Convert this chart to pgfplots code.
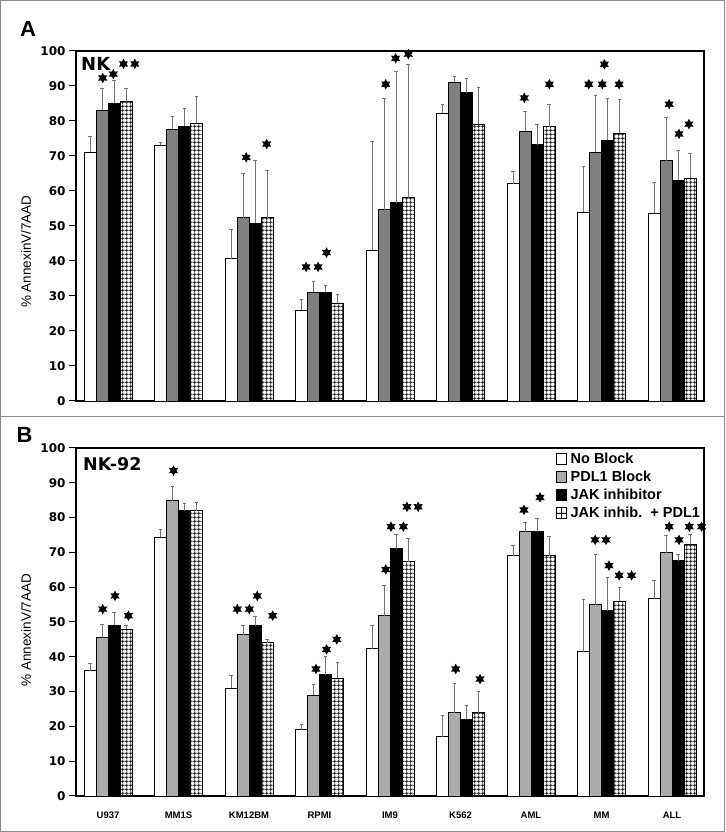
\documentclass[border=0pt]{standalone}
\usepackage{pgfplots}
\usepackage{pgfplotstable}
\pgfplotsset{compat=1.18}
\usepackage{fontspec}
\setmainfont{Liberation Sans}
\newfontfamily\dv{DejaVu Sans}
\usetikzlibrary{patterns}

\pgfdeclarepatternformonly{bargrid}{\pgfqpoint{0pt}{0pt}}{\pgfqpoint{4.2pt}{4.2pt}}{\pgfqpoint{4.2pt}{4.2pt}}{%
  \pgfsetlinewidth{1pt}%
  \pgfpathmoveto{\pgfqpoint{0pt}{2.1pt}}\pgfpathlineto{\pgfqpoint{4.2pt}{2.1pt}}%
  \pgfpathmoveto{\pgfqpoint{2.1pt}{0pt}}\pgfpathlineto{\pgfqpoint{2.1pt}{4.2pt}}%
  \pgfusepath{stroke}}

\pgfdeclareplotmark{sixstar}{%
  \pgfpathmoveto{\pgfpointpolar{90}{\pgfplotmarksize}}%
  \pgfpathlineto{\pgfpointpolar{120}{0.55*\pgfplotmarksize}}%
  \pgfpathlineto{\pgfpointpolar{150}{\pgfplotmarksize}}%
  \pgfpathlineto{\pgfpointpolar{180}{0.55*\pgfplotmarksize}}%
  \pgfpathlineto{\pgfpointpolar{210}{\pgfplotmarksize}}%
  \pgfpathlineto{\pgfpointpolar{240}{0.55*\pgfplotmarksize}}%
  \pgfpathlineto{\pgfpointpolar{270}{\pgfplotmarksize}}%
  \pgfpathlineto{\pgfpointpolar{300}{0.55*\pgfplotmarksize}}%
  \pgfpathlineto{\pgfpointpolar{330}{\pgfplotmarksize}}%
  \pgfpathlineto{\pgfpointpolar{0}{0.55*\pgfplotmarksize}}%
  \pgfpathlineto{\pgfpointpolar{30}{\pgfplotmarksize}}%
  \pgfpathlineto{\pgfpointpolar{60}{0.55*\pgfplotmarksize}}%
  \pgfpathclose
  \pgfusepathqfill}

% ---------------- Panel A (NK) ----------------
\pgfplotstableread{
x y e
0 71.0 4.5
1 73.0 1.0
2 40.7 8.3
3 26.0 2.9
4 43.0 31.3
5 82.2 2.6
6 62.1 3.4
7 54.0 13.1
8 53.6 8.8
}\Awhite
\pgfplotstableread{
x y e
0 83.0 6.3
1 77.7 3.5
2 52.3 12.8
3 31.0 3.3
4 54.6 31.8
5 91.1 1.6
6 77.1 5.6
7 71.1 16.1
8 68.7 12.2
}\Agrey
\pgfplotstableread{
x y e
0 85.0 6.7
1 78.5 5.2
2 50.8 18.0
3 31.0 1.9
4 56.7 37.4
5 88.1 4.0
6 73.2 5.9
7 74.5 11.9
8 63.0 8.6
}\Ablack
\pgfplotstableread{
x y e
0 85.5 3.8
1 79.3 7.7
2 52.3 13.5
3 28.0 2.6
4 58.1 38.2
5 79.1 10.4
6 78.3 6.4
7 76.5 9.8
8 63.6 7.2
}\Ahatch
\pgfplotstableread{
x y
-0.075 92.3
0.075 93.4
0.22 96.3
0.38 96.3
1.96 69.6
2.25 73.4
2.81 38.3
2.98 38.3
3.10 42.4
3.94 90.5
4.08 97.9
4.26 99.1
5.905 86.6
6.26 90.5
6.82 90.5
7.01 90.5
7.04 96.2
7.25 90.5
7.96 84.8
8.10 76.3
8.24 79.1
}\Astars

% ---------------- Panel B (NK-92) ----------------
\pgfplotstableread{
x y e
0 36.0 2.0
1 74.3 2.4
2 30.9 3.7
3 19.0 1.6
4 42.3 6.6
5 17.0 6.3
6 69.0 2.9
7 41.4 15.2
8 56.7 5.4
}\Bwhite
\pgfplotstableread{
x y e
0 45.5 3.8
1 84.9 4.0
2 46.3 2.8
3 28.9 3.3
4 51.8 8.6
5 23.9 8.6
6 75.9 2.6
7 55.0 14.4
8 69.9 4.9
}\Bgrey
\pgfplotstableread{
x y e
0 49.0 3.7
1 82.0 2.0
2 48.9 2.6
3 34.9 5.1
4 71.0 4.2
5 22.0 4.1
6 75.9 4.0
7 53.3 9.4
8 67.6 1.9
}\Bblack
\pgfplotstableread{
x y e
0 48.0 1.1
1 82.0 2.5
2 44.0 0.9
3 33.9 4.6
4 67.3 6.6
5 23.9 6.3
6 69.0 5.5
7 56.0 3.9
8 72.3 2.9
}\Bhatch
\pgfplotstableread{
x y
-0.075 53.7
0.10 57.5
0.29 51.8
0.93 93.5
1.834 53.7
2.005 53.7
2.118 57.5
2.336 51.8
2.95 36.5
3.10 42.1
3.245 45.0
3.94 65.1
4.014 77.4
4.19 77.4
4.24 83.1
4.40 83.1
4.932 36.5
5.277 33.6
5.90 82.2
6.128 85.8
6.91 73.6
7.064 73.6
7.106 66.2
7.25 63.4
7.426 63.4
7.96 77.4
8.10 73.6
8.245 77.4
8.42 77.4
}\Bstars

\colorlet{greyA}{black!50}
\colorlet{greyB}{black!33}
\colorlet{errc}{black!55}

\pgfplotsset{
  panel/.style={
    scale only axis, width=628pt,
    xmin=-0.454, xmax=8.454, ymin=0, ymax=100,
    ytick={0,10,...,100}, xtick={0,...,8},
    ytick pos=left,
    tick align=outside,
    major tick length=7pt,
    ytick style={line width=1pt, black},
    xtick style={draw=none},
    axis line style={line width=1.6pt},
    /pgf/number format/assume math mode=true,
    yticklabel style={font=\dv\bfseries\fontsize{12}{13}\selectfont},
    xticklabel style={font=\bfseries\fontsize{9.5}{10}\selectfont, yshift=-5pt},
    ylabel={\% AnnexinV/7AAD},
    clip=false,
  },
  barbase/.style={ybar, bar width=12pt, bar shift=0pt, draw=black, line width=0.9pt,
    error bars/.cd, y dir=plus, y explicit,
    error bar style={line width=0.7pt, errc},
    error mark options={rotate=90, mark size=1.6pt, line width=0.7pt, errc},
    /pgfplots/.cd},
  legimg/.style={legend image code/.code={\draw[##1, line width=0.8pt, draw=black] (0pt,-5.5pt) rectangle (10pt,5.5pt);}},
  legimghatch/.style={legend image code/.code={\draw[fill=white, line width=0.8pt, draw=black] (0pt,-5.5pt) rectangle (10pt,5.5pt); \draw[line width=0.8pt, black] (5pt,-5.5pt) -- (5pt,5.5pt) (0pt,0pt) -- (10pt,0pt);}},
  stars/.style={only marks, mark=sixstar, mark size=5.3pt, black, forget plot},
}
% bar offsets in category units (bar width 12pt = 0.1702 units)
\def\oa{-0.2553}\def\ob{-0.0851}\def\oc{0.0851}\def\od{0.2553}

\begin{document}
\begin{tikzpicture}[x=1pt,y=1pt]
\useasboundingbox (0,0) rectangle (725,832);
\fill[white] (0,0) rectangle (725,832);

% ---------- Panel A ----------
\begin{axis}[panel, height=350pt, at={(76pt,431pt)}, anchor=south west,
  xticklabels={},
  every axis y label/.style={at={(axis description cs:-0.0796,0.427)}, rotate=90, anchor=center, font=\fontsize{13.5}{15}\selectfont}]
\addplot[barbase, fill=white] table[x expr=\thisrow{x}+\oa,y=y,y error=e]{\Awhite};
\addplot[barbase, fill=greyA] table[x expr=\thisrow{x}+\ob,y=y,y error=e]{\Agrey};
\addplot[barbase, fill=black] table[x expr=\thisrow{x}+\oc,y=y,y error=e]{\Ablack};
\addplot[barbase, pattern=bargrid] table[x expr=\thisrow{x}+\od,y=y,y error=e]{\Ahatch};
\addplot[stars] table[x=x,y=y]{\Astars};
\end{axis}

% ---------- Panel B ----------
\begin{axis}[panel, height=348pt, at={(76pt,36pt)}, anchor=south west,
  xticklabels={U937,MM1S,KM12BM,RPMI,IM9,K562,AML,MM,ALL},
  every axis y label/.style={at={(axis description cs:-0.0796,0.477)}, rotate=90, anchor=center, font=\fontsize{13.5}{15}\selectfont},
  legend style={at={(rel axis cs:0.763,0.995)}, anchor=north west, draw=none, fill=none,
    inner sep=1pt, row sep=2pt,
    font=\bfseries\fontsize{14.5}{15}\selectfont,
    /tikz/every odd column/.style={column sep=1.5pt}},
  legend cell align=left]
\addplot[barbase, fill=white, legimg] table[x expr=\thisrow{x}+\oa,y=y,y error=e]{\Bwhite};
\addlegendentry{No Block}
\addplot[barbase, fill=greyB, legimg] table[x expr=\thisrow{x}+\ob,y=y,y error=e]{\Bgrey};
\addlegendentry{PDL1 Block}
\addplot[barbase, fill=black, legimg] table[x expr=\thisrow{x}+\oc,y=y,y error=e]{\Bblack};
\addlegendentry{JAK inhibitor}
\addplot[barbase, pattern=bargrid, legimghatch] table[x expr=\thisrow{x}+\od,y=y,y error=e]{\Bhatch};
\addlegendentry{JAK inhib.\ \ + PDL1}
\addplot[stars] table[x=x,y=y]{\Bstars};
\end{axis}

% ---------- panel labels & frame ----------
\node[font=\bfseries\fontsize{22}{24}\selectfont, inner sep=0pt] at (28,803.5) {A};
\node[font=\bfseries\fontsize{22}{24}\selectfont, inner sep=0pt] at (24.5,397) {B};
\node[font=\dv\bfseries\fontsize{18}{20}\selectfont, inner sep=0pt, anchor=north west] at (81,775) {NK};
\node[font=\dv\bfseries\fontsize{17.5}{20}\selectfont, inner sep=0pt, anchor=north west] at (83,375) {NK-92};
\draw[black!45, line width=1.3pt] (0.8,0.8) rectangle (724.2,831.2);
\draw[black!45, line width=1.3pt] (0,415.5) -- (725,415.5);
\end{tikzpicture}
\end{document}
